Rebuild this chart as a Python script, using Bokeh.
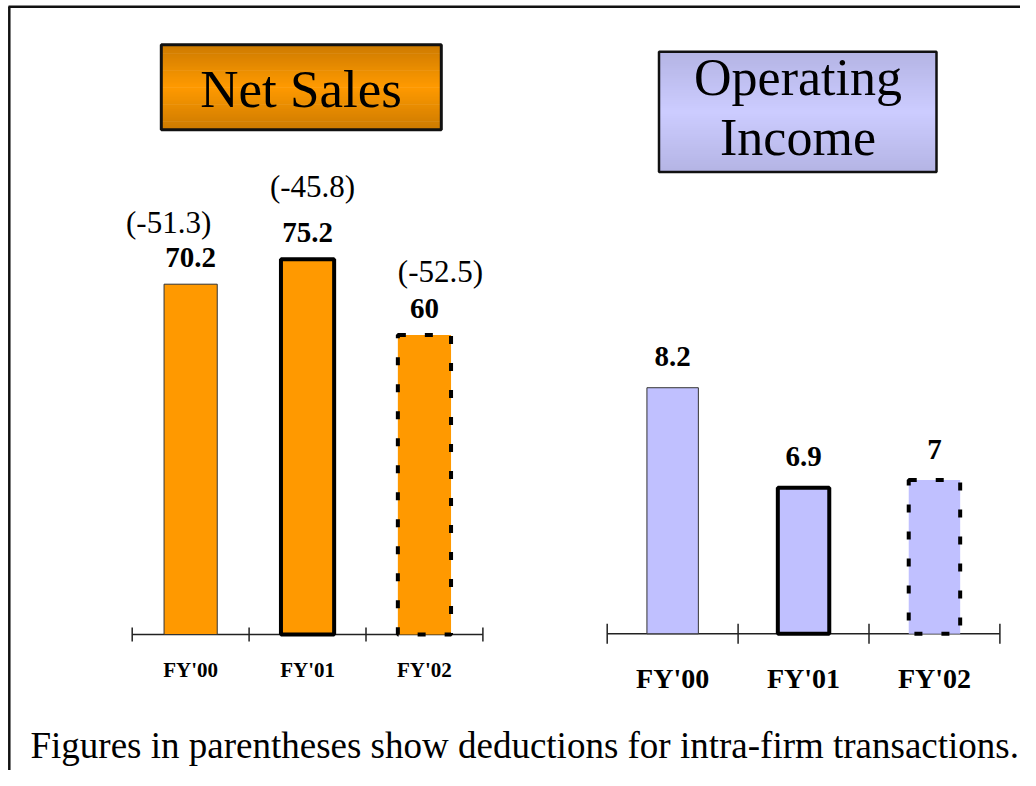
from bokeh.plotting import figure
from bokeh.models import Range1d
from bokeh.embed import file_html
from bokeh.resources import INLINE
from bokeh.core.properties import value

# ---------------- data ----------------
categories = ["FY'00", "FY'01", "FY'02"]
net_sales = [70.2, 75.2, 60.0]
intra_firm_deductions = [-51.3, -45.8, -52.5]
operating_income = [8.2, 6.9, 7.0]
income_axis_base = 5.0          # the operating-income axis does not start at zero
sales_axis_base = 0.0

net_sales_title = ["Net Sales"]
income_title = ["Operating", "Income"]
footnote = "Figures in parentheses show deductions for intra-firm transactions."

# ---------------- layout (canvas pixel coordinates, y downwards) ----------------
W, H = 1020, 770
SERIF = value("Liberation Serif")
BL = 0.355          # baseline correction (fraction of font size)


def shift(size_px):
    return -BL * size_px


p = figure(width=W, height=H, output_backend="svg", toolbar_location=None,
           x_axis_location=None, y_axis_location=None,
           x_range=Range1d(0, W), y_range=Range1d(H, 0),
           min_border=0, outline_line_color=None,
           background_fill_color="white", border_fill_color="white")
p.grid.visible = False

panels = {
    "sales": dict(cats=categories, vals=net_sales, base=sales_axis_base,
                  ax0=131.7, cat_w=116.9, ax_y=634.0, ppu=4.99, bar_w=0.455,
                  tick=7, lab_y=676.7, lab_size=21, val_gap=16, val_size=29,
                  fill="#FF9900"),
    "income": dict(cats=categories, vals=operating_income, base=income_axis_base,
                   ax0=606.7, cat_w=130.9, ax_y=633.3, ppu=76.9, bar_w=0.393,
                   tick=10, lab_y=688.3, lab_size=28, val_gap=20.5, val_size=29,
                   fill="#C0C0FF"),
}

xr, yr = {}, {}
for k, c in panels.items():
    xr[k] = Range1d((0 - c["ax0"]) / c["cat_w"], (W - c["ax0"]) / c["cat_w"])
    yr[k] = Range1d(c["base"] + (c["ax_y"] - H) / c["ppu"],
                    c["base"] + (c["ax_y"] - 0) / c["ppu"])
p.extra_x_ranges = xr
p.extra_y_ranges = yr

bar_styles = [
    dict(line_color="#333333", line_width=1),
    dict(line_color="black", line_width=4),
    dict(line_color="black", line_width=4, line_dash="8 19"),
]

# frame border (left and top)
p.segment(x0=[8.8, 8], y0=[6, 6.2], x1=[8.8, W], y1=[H, 6.2],
          line_color="#111111", line_width=2.5)


def gradient_box(x0, x1, y0, y1, edge, center, n=60):
    def mix(t):
        f = 1 - abs(2 * t - 1)
        return "#%02x%02x%02x" % tuple(int(round(edge[i] + (center[i] - edge[i]) * f)) for i in range(3))
    step = (y1 - y0) / n
    tops = [y0 + i * step for i in range(n)]
    bots = [t + step + 0.6 for t in tops]
    cols = [mix((i + 0.5) / n) for i in range(n)]
    p.quad(left=x0, right=x1, top=tops, bottom=bots, fill_color=cols, line_color=None)


# title boxes
gradient_box(160.8, 440.8, 44.2, 129.2, (204, 122, 0), (255, 154, 0))
p.quad(left=[160.8], right=[440.8], top=[44.2], bottom=[129.2], fill_color=None,
       line_color="#111111", line_width=3)
p.text(x=[300.5], y=[107 + shift(53)], text=net_sales_title, text_font=SERIF, text_font_size="53px",
       text_align="center", text_baseline="alphabetic", text_color="black")

gradient_box(658.5, 936.0, 51.3, 171.5, (180, 180, 228), (204, 204, 255))
p.quad(left=[658.5], right=[936.0], top=[51.3], bottom=[171.5], fill_color=None,
       line_color="#111111", line_width=2.5)
p.text(x=[797.5, 797.5], y=[95 + shift(52), 155 + shift(52)], text=income_title, text_font=SERIF,
       text_font_size="52px", text_align="center", text_baseline="alphabetic", text_color="black")

# panels
for k, c in panels.items():
    xs = [i + 0.5 for i in range(len(c["cats"]))]
    n = len(c["cats"])
    # axis line and boundary ticks
    p.segment(x0=[0], x1=[n], y0=[c["ax_y"]], y1=[c["ax_y"]], x_range_name=k,
              line_color="#222222", line_width=1.5)
    p.segment(x0=list(range(n + 1)), x1=list(range(n + 1)),
              y0=[c["ax_y"] - c["tick"]] * (n + 1), y1=[c["ax_y"] + c["tick"]] * (n + 1),
              x_range_name=k, line_color="#222222", line_width=1.5)
    # bars
    for i in range(n):
        p.vbar(x=[xs[i]], top=[c["vals"][i]], bottom=c["base"], width=c["bar_w"],
               x_range_name=k, y_range_name=k, fill_color=c["fill"], **bar_styles[i])
    # value labels
    p.text(x=xs, y=c["vals"], text=["%g" % v for v in c["vals"]], x_range_name=k, y_range_name=k,
           y_offset=-c["val_gap"] + shift(c["val_size"]), text_font=SERIF,
           text_font_size="%dpx" % c["val_size"],
           text_font_style="bold", text_align="center", text_baseline="alphabetic",
           text_color="black")
    # category labels
    p.text(x=xs, y=[c["lab_y"] + shift(c["lab_size"])] * n, text=c["cats"], x_range_name=k,
           text_font=SERIF, text_font_size="%dpx" % c["lab_size"], text_font_style="bold",
           text_align="center", text_baseline="alphabetic", text_color="black")

# parenthesised deductions above the net-sales bars
paren_dx = [-22, 5, 16]
paren_dy = [-51, -62, -53]
p.text(x=[i + 0.5 for i in range(len(categories))], y=net_sales,
       text=["(%g)" % v for v in intra_firm_deductions],
       x_range_name="sales", y_range_name="sales", x_offset=paren_dx,
       y_offset=[d + shift(31) for d in paren_dy],
       text_font=SERIF, text_font_size="31px", text_align="center",
       text_baseline="alphabetic", text_color="black")

# footnote
p.text(x=[30], y=[757.7 + shift(37)], text=[footnote], text_font=SERIF, text_font_size="37px",
       text_align="left", text_baseline="alphabetic", text_color="black")

open("out.html", "w").write(file_html(p, INLINE))
